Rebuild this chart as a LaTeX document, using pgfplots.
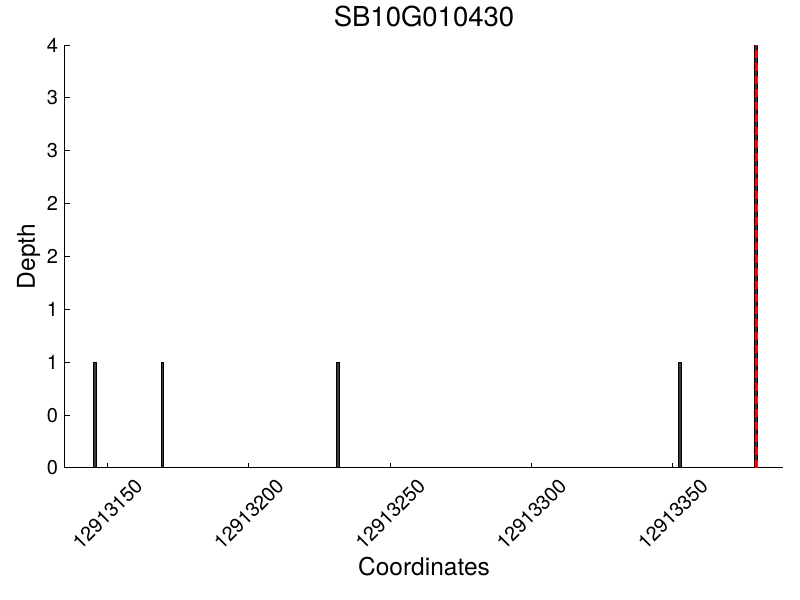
\documentclass[border=0pt]{standalone}
\usepackage{fontspec}
\setmainfont{TeX Gyre Heros}
\usepackage{pgfplots}
\pgfplotsset{compat=1.18}
\begin{document}
\begin{tikzpicture}
% 1px = 0.5pt ; picture 800x600 px
\useasboundingbox (-32.5pt,-66pt) rectangle (367.5pt,234pt);
\begin{axis}[
  at={(0,0)}, anchor=south west,
  scale only axis,
  width=359pt, height=211.5pt,
  % x values are offsets from 12913000
  xmin=135, xmax=389,
  ymin=0, ymax=4,
  axis x line=bottom, axis y line=left,
  axis line style={-, line width=0.5pt},
  tick align=inside,
  major tick length=2.5pt,
  tick style={black, line width=0.5pt},
  xtick={150,200,250,300,350},
  xticklabels={12913150,12913200,12913250,12913300,12913350},
  ytick={0,0.5,1,1.5,2,2.5,3,3.5,4},
  yticklabels={0,0,1,1,2,2,3,3,4},
  /pgf/number format/assume math mode=true,
  xticklabel style={font=\fontsize{10pt}{10pt}\selectfont, inner sep=0pt, yshift=-23pt, rotate=45, anchor=center},
  yticklabel style={font=\fontsize{10pt}{10pt}\selectfont, inner sep=0pt, anchor=east, xshift=-3.3pt},
  title={SB10G010430},
  title style={font=\fontsize{13.75pt}{13.75pt}\selectfont, at={(axis description cs:0.5,1.0165)}, anchor=base, inner sep=0pt},
  xlabel={Coordinates},
  xlabel style={font=\fontsize{12.25pt}{12.25pt}\selectfont, at={(axis description cs:0.5,-0.253)}, anchor=base, inner sep=0pt},
  ylabel={Depth},
  ylabel style={font=\fontsize{12.25pt}{12.25pt}\selectfont, at={(axis description cs:-0.0418,0.5)}, anchor=base, rotate=0, inner sep=0pt},
  clip=false,
]
\addplot[ybar, bar width=1, fill={rgb,255:red,58;green,58;blue,58}, draw=black, line width=0.5pt]
  coordinates {(145.5,1) (169.5,1) (231.5,1) (352.5,1) (379.5,4)};
\addplot[red, line width=1.5pt, dash pattern=on 4pt off 2.4pt]
  coordinates {(379.5,0) (379.5,4)};
\end{axis}
\end{tikzpicture}
\end{document}
